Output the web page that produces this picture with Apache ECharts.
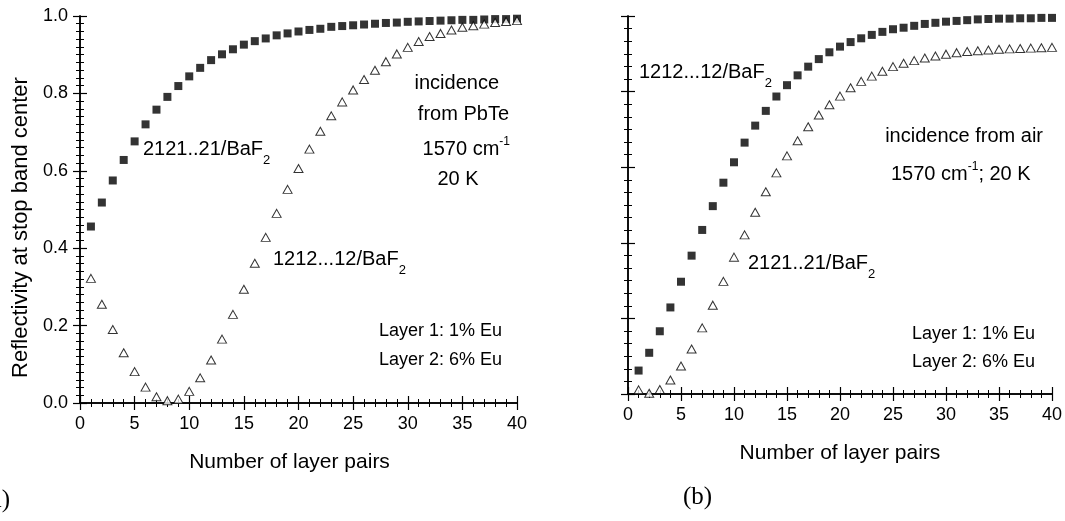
<!DOCTYPE html>
<html>
<head>
<meta charset="utf-8">
<script src="https://cdn.jsdelivr.net/npm/echarts@6/dist/echarts.min.js"></script>
<style>
  body { margin: 0; background: #fff; }
  #chart { width: 1065px; height: 521px; }
</style>
</head>
<body>
<div id="chart"></div>
<script>
// number of layer pairs
const pairs = [];
for (let i = 1; i <= 40; i++) pairs.push(i);

// (a) incidence from PbTe
const pbteSquares = [0.456, 0.518, 0.575, 0.628, 0.676, 0.720, 0.758, 0.791, 0.819, 0.844,
  0.866, 0.886, 0.901, 0.914, 0.926, 0.935, 0.942, 0.950, 0.955, 0.960,
  0.964, 0.967, 0.972, 0.974, 0.976, 0.978, 0.980, 0.982, 0.983, 0.985,
  0.986, 0.987, 0.988, 0.989, 0.990, 0.990, 0.991, 0.992, 0.992, 0.993];
const pbteTriangles = [0.322, 0.255, 0.190, 0.130, 0.081, 0.041, 0.016, 0.006, 0.010, 0.030,
  0.065, 0.111, 0.165, 0.229, 0.294, 0.361, 0.428, 0.490, 0.552, 0.606,
  0.656, 0.702, 0.742, 0.778, 0.809, 0.836, 0.860, 0.882, 0.902, 0.919,
  0.934, 0.947, 0.955, 0.964, 0.971, 0.975, 0.979, 0.983, 0.986, 0.988];

// (b) incidence from air
const airSquares = [0.062, 0.109, 0.166, 0.229, 0.297, 0.366, 0.434, 0.497, 0.559, 0.613,
  0.665, 0.710, 0.749, 0.787, 0.817, 0.843, 0.866, 0.886, 0.904, 0.919,
  0.931, 0.941, 0.950, 0.958, 0.965, 0.969, 0.974, 0.979, 0.982, 0.985,
  0.987, 0.989, 0.991, 0.992, 0.993, 0.993, 0.994, 0.994, 0.995, 0.995];
const airTriangles = [0.011, 0.002, 0.012, 0.037, 0.074, 0.119, 0.175, 0.235, 0.298, 0.362,
  0.421, 0.481, 0.535, 0.585, 0.630, 0.670, 0.707, 0.738, 0.765, 0.788,
  0.810, 0.827, 0.841, 0.854, 0.866, 0.875, 0.882, 0.889, 0.894, 0.899,
  0.903, 0.906, 0.908, 0.910, 0.912, 0.913, 0.914, 0.915, 0.916, 0.917];

const xTicks = [0, 5, 10, 15, 20, 25, 30, 35, 40];
const yTicks = [0.0, 0.2, 0.4, 0.6, 0.8, 1.0];

const sans = "'Liberation Sans', Arial, sans-serif";
const serif = "'Liberation Serif', 'Times New Roman', serif";

const pts = (vals) => vals.map((v, i) => [pairs[i], v]);

function xAx(grid, pos, labels, name, pad) {
  return {
    gridIndex: grid, type: "value", position: pos,
    min: xTicks[0], max: xTicks[xTicks.length - 1], interval: 5,
    axisLine: { lineStyle: { color: "#000", width: 1.5 } },
    axisTick: { inside: true, length: 7, lineStyle: { color: "#000", width: 1.2 } },
    minorTick: { show: true, splitNumber: 5, length: 4, lineStyle: { color: "#000", width: 1 } },
    splitLine: { show: false },
    axisLabel: { show: labels, margin: 12, color: "#000", fontSize: 18, fontFamily: sans },
    name: name, nameLocation: "middle", nameGap: 49,
    nameTextStyle: { color: "#000", fontSize: 21, fontFamily: sans, padding: pad || 0 },
  };
}

function yAx(grid, pos, labels, minorSplit, name) {
  return {
    gridIndex: grid, type: "value", position: pos,
    min: yTicks[0], max: yTicks[yTicks.length - 1], interval: 0.2,
    axisLine: { lineStyle: { color: "#000", width: 1.5 } },
    axisTick: { inside: true, length: 7, lineStyle: { color: "#000", width: 1.2 } },
    minorTick: { show: true, splitNumber: minorSplit, length: 4, lineStyle: { color: "#000", width: 1 } },
    splitLine: { show: false },
    axisLabel: { show: labels, margin: 12, color: "#000", fontSize: 18, fontFamily: sans,
      formatter: (v) => v.toFixed(1) },
    name: name, nameLocation: "middle", nameGap: 48,
    nameTextStyle: { color: "#000", fontSize: 22, fontFamily: sans, padding: [0, 36, 0, 0] },
  };
}

function squares(x, y, vals) {
  return {
    type: "scatter", xAxisIndex: x, yAxisIndex: y, data: pts(vals),
    symbol: "rect", symbolSize: 8, itemStyle: { color: "#000" }, clip: false,
  };
}
function triangles(x, y, vals) {
  return {
    type: "scatter", xAxisIndex: x, yAxisIndex: y, data: pts(vals),
    symbol: "triangle", symbolSize: [9, 8],
    itemStyle: { color: "#fff", borderColor: "#000", borderWidth: 1 }, clip: false,
  };
}

const rich = {
  sub: { fontSize: 13, fontFamily: sans, color: "#000", padding: [22, 0, 0, 0], verticalAlign: "bottom" },
  sup: { fontSize: 12, fontFamily: sans, color: "#000", padding: [0, 0, 14, 0], verticalAlign: "top" },
};

function note(x, y, text, align, size, font) {
  return {
    type: "text", x: x, y: y, silent: true,
    style: {
      text: text, fill: "#000", fontSize: size || 20, fontFamily: font || sans,
      textAlign: align || "left", textVerticalAlign: "middle",
      align: align || "left", verticalAlign: "middle", rich: rich,
    },
  };
}

const chart = echarts.init(document.getElementById("chart"), null, { renderer: "canvas" });
chart.setOption({
  backgroundColor: "#fff",
  animation: false,
  grid: [
    { left: 80, top: 16, width: 437, height: 387 },
    { left: 628, top: 16, width: 425, height: 378 },
  ],
  xAxis: [
    xAx(0, "bottom", true, "Number of layer pairs", [0, 18, 0, 0]),
    xAx(0, "top", false, ""),
    xAx(1, "bottom", true, "Number of layer pairs"),
    xAx(1, "top", false, ""),
  ],
  yAxis: [
    yAx(0, "left", true, 10, "Reflectivity at stop band center"),
    yAx(0, "right", false, 10, ""),
    yAx(1, "left", false, 6, ""),
    yAx(1, "right", false, 6, ""),
  ],
  series: [
    squares(0, 0, pbteSquares),
    triangles(0, 0, pbteTriangles),
    squares(2, 2, airSquares),
    triangles(2, 2, airTriangles),
  ],
  graphic: [
    note(143, 149, "2121..21/BaF{sub|2}"),
    note(273, 259, "1212...12/BaF{sub|2}"),
    note(499, 83, "incidence", "right"),
    note(509, 114, "from PbTe", "right"),
    note(510, 149, "1570 cm{sup|-1}", "right"),
    note(458, 179, "20 K", "center"),
    note(502, 331, "Layer 1: 1% Eu", "right", 18),
    note(502, 360, "Layer 2: 6% Eu", "right", 18),

    note(639, 72, "1212...12/BaF{sub|2}"),
    note(1043, 136, "incidence from air", "right"),
    note(891, 174, "1570 cm{sup|-1}; 20 K"),
    note(748, 263, "2121..21/BaF{sub|2}"),
    note(1035, 334, "Layer 1: 1% Eu", "right", 18),
    note(1035, 362, "Layer 2: 6% Eu", "right", 18),

    note(10, 500, "(a)", "right", 25, serif),
    note(683, 497, "(b)", "left", 25, serif),
  ],
});
</script>
</body>
</html>
